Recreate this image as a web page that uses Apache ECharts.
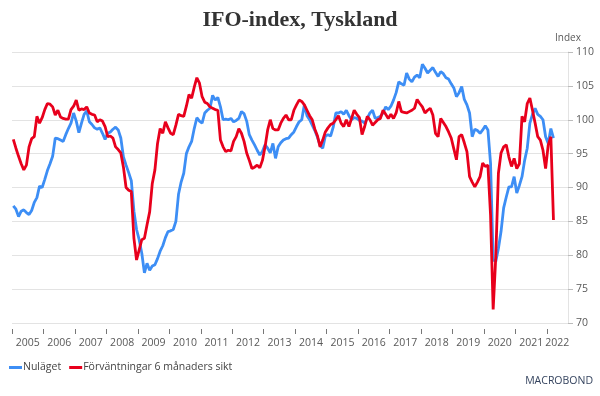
<!DOCTYPE html>
<html>
<head>
<meta charset="utf-8">
<script src="https://cdn.jsdelivr.net/npm/echarts@6/dist/echarts.min.js"></script>
<style>
  html, body { margin: 0; padding: 0; background: #fff; }
  #chart { width: 600px; height: 396px; }
</style>
</head>
<body>
<div id="chart"></div>
<script>
// månadsdata från jan 2005 till mar 2022
var startYear = 2005;
var years = [2005, 2006, 2007, 2008, 2009, 2010, 2011, 2012, 2013, 2014, 2015, 2016, 2017, 2018, 2019, 2020, 2021, 2022];

var nulaget = [
  87.3, 86.8, 85.7, 86.5, 86.7, 86.3, 86.0, 86.6, 87.8, 88.5, 90.2, 90.0,
  91.2, 92.5, 93.5, 94.6, 97.3, 97.2, 97.0, 96.8, 97.8, 98.7, 99.5, 101.0,
  99.8, 98.1, 99.5, 100.8, 101.3, 99.7, 99.3, 98.8, 98.6, 98.8, 98.0, 97.1,
  98.0, 98.2, 98.6, 98.9, 98.5, 97.3, 94.5, 93.3, 92.2, 91.0, 86.5, 83.8,
  82.3, 80.3, 77.4, 78.8, 77.8, 78.4, 78.6, 79.5, 80.6, 81.4, 82.6, 83.5,
  83.6, 83.8, 85.0, 89.0, 90.8, 92.1, 95.0, 96.0, 96.8, 98.7, 100.3, 99.8,
  99.5, 101.0, 101.4, 101.7, 103.6, 102.9, 103.3, 101.9, 100.0, 100.1, 100.0, 100.2,
  99.7, 99.9, 100.2, 101.2, 100.9, 99.8, 97.8, 97.0, 96.3, 95.5, 94.8, 95.3,
  96.3, 95.8, 95.1, 96.5, 94.3, 96.0, 96.6, 97.0, 97.2, 97.3, 97.8, 98.2,
  99.0, 99.7, 100.0, 102.2, 100.6, 100.0, 99.2, 98.4, 97.4, 96.2, 95.8, 97.6,
  97.8, 97.6, 98.9, 101.0, 101.0, 101.2, 100.8, 101.4, 100.6, 100.0, 100.3, 100.2,
  99.9, 99.8, 99.5, 100.2, 101.0, 101.4, 100.2, 100.3, 100.5, 101.0, 101.9, 101.5,
  102.0, 102.9, 104.0, 105.6, 105.3, 105.1, 106.9, 106.0, 105.6, 106.3, 106.6, 106.2,
  108.2, 107.6, 106.9, 107.3, 107.7, 107.0, 106.4, 107.1, 106.8, 106.2, 106.0, 105.3,
  104.7, 103.4, 104.0, 104.9, 103.0, 102.2, 101.0, 97.5, 98.6, 98.4, 98.0, 98.5,
  99.1, 98.5, 93.6, 79.3, 79.1, 81.0, 83.5, 87.0, 88.6, 90.1, 90.1, 91.6,
  89.2, 90.3, 91.6, 94.0, 95.8, 99.5, 100.8, 101.7, 100.8, 100.5, 100.0, 97.5,
  96.5, 98.7, 97.3
];

var forvantningar = [
  97.1, 95.8, 94.6, 93.5, 92.6, 93.3, 96.0, 97.2, 97.5, 100.5, 99.5, 100.3,
  101.5, 102.4, 102.3, 101.9, 100.7, 101.4, 100.4, 100.2, 100.1, 100.1, 101.5, 102.0,
  102.9, 101.4, 101.6, 101.5, 101.9, 101.0, 100.8, 100.7, 99.7, 100.0, 99.8, 99.0,
  97.5, 97.6, 97.3, 96.0, 95.6, 95.1, 93.0, 90.0, 89.6, 89.4, 82.5, 79.3,
  80.8, 82.3, 82.5, 84.5, 86.4, 90.6, 92.6, 96.5, 98.7, 98.0, 99.7, 98.8,
  98.0, 97.8, 99.2, 100.8, 100.6, 100.5, 102.0, 103.7, 103.2, 104.8, 106.2, 105.4,
  103.4, 102.6, 102.4, 101.9, 101.7, 101.5, 101.4, 97.0, 96.0, 95.3, 95.5, 95.4,
  96.8, 97.5, 98.7, 98.0, 96.8, 95.1, 94.0, 92.8, 93.0, 93.3, 92.9, 94.0,
  96.0, 98.5, 100.0, 98.7, 98.5, 98.5, 99.5, 100.2, 100.7, 100.0, 100.0, 101.4,
  102.2, 102.9, 102.7, 102.2, 101.4, 100.6, 100.0, 98.6, 97.6, 96.0, 97.0, 98.2,
  98.8, 99.3, 99.5, 100.0, 100.6, 99.5, 99.0, 100.0, 99.0, 100.2, 101.4, 100.8,
  100.3, 97.8, 99.0, 100.5, 100.0, 99.2, 99.6, 100.0, 100.2, 101.4, 100.8, 100.2,
  100.8, 100.2, 101.0, 102.7, 101.2, 101.1, 101.0, 101.2, 101.4, 101.7, 103.0, 102.4,
  101.9, 101.0, 101.4, 101.7, 100.7, 98.0, 97.5, 100.2, 99.6, 99.0, 98.2, 97.3,
  95.7, 94.1, 97.5, 97.8, 96.6, 95.3, 91.6, 90.8, 90.1, 90.8, 91.6, 93.6,
  93.1, 93.3, 86.0, 72.0, 79.8, 92.1, 95.1, 96.0, 96.3, 94.5, 93.1, 94.3,
  92.8, 93.5, 100.5, 99.7, 102.4, 103.2, 101.4, 99.5, 97.5, 97.0, 95.5, 92.8,
  96.3, 97.5, 85.2
];

// x = år som decimaltal, mitt i månaden
function toPairs(arr) {
    return arr.map(function (v, i) {
        return [startYear + (i + 0.5) / 12, v];
    });
}

var labelPos = years.map(function (y) { return y + 0.5; });
labelPos[labelPos.length - 1] = 2022.33;

var chart = echarts.init(document.getElementById('chart'), null, { renderer: 'canvas' });

chart.setOption({
    animation: false,
    title: {
        text: 'IFO-index, Tyskland',
        left: 'center',
        top: 4,
        textStyle: {
            fontFamily: 'Liberation Serif',
            fontWeight: 'bold',
            fontSize: 22,
            color: '#333333'
        }
    },
    grid: {
        left: 12,
        right: 32,
        top: 52,
        bottom: 73
    },
    legend: {
        left: 4,
        top: 357,
        itemGap: 8,
        itemWidth: 13,
        itemHeight: 3,
        icon: 'rect',
        textStyle: {
            fontFamily: 'Open Sans',
            fontSize: 10.5,
            color: '#444',
            padding: [0, 0, 0, -4]
        },
        data: ['Nuläget', 'Förväntningar 6 månaders sikt']
    },
    xAxis: {
        type: 'value',
        min: 2005,
        max: 2022.67,
        interval: 1,
        offset: 6,
        axisLine: { show: false },
        splitLine: { show: false },
        axisTick: {
            show: true,
            length: 5,
            customValues: years,
            lineStyle: { color: '#777' }
        },
        axisLabel: {
            customValues: labelPos,
            margin: 9,
            fontFamily: 'Open Sans',
            fontSize: 10.5,
            color: '#595959',
            formatter: function (v) { return String(Math.floor(v)); }
        }
    },
    yAxis: {
        type: 'value',
        position: 'right',
        min: 70,
        max: 110,
        interval: 5,
        name: 'Index',
        nameLocation: 'end',
        nameGap: 9,
        nameTextStyle: {
            fontFamily: 'Open Sans',
            fontSize: 10,
            color: '#595959'
        },
        axisLine: { show: true, lineStyle: { color: '#e3e3e3' } },
        axisTick: { show: true, length: 5, lineStyle: { color: '#bbb' } },
        splitLine: { show: true, lineStyle: { color: '#e3e3e3', width: 1 } },
        axisLabel: {
            margin: 8,
            fontFamily: 'Open Sans',
            fontSize: 10.5,
            color: '#595959'
        }
    },
    graphic: [
        {
            type: 'text',
            right: 7,
            top: 376,
            style: {
                text: 'MACROBOND',
                fontFamily: 'Open Sans',
                fontSize: 10.5,
                fontWeight: 'normal',
                fill: '#34435e'
            }
        }
    ],
    series: [
        {
            name: 'Nuläget',
            type: 'line',
            data: toPairs(nulaget),
            showSymbol: false,
            symbol: 'none',
            lineStyle: { color: '#3d8ef5', width: 2.8 },
            itemStyle: { color: '#3d8ef5' }
        },
        {
            name: 'Förväntningar 6 månaders sikt',
            type: 'line',
            data: toPairs(forvantningar),
            showSymbol: false,
            symbol: 'none',
            lineStyle: { color: '#e8001c', width: 2.8 },
            itemStyle: { color: '#e8001c' }
        }
    ]
});
</script>
</body>
</html>
